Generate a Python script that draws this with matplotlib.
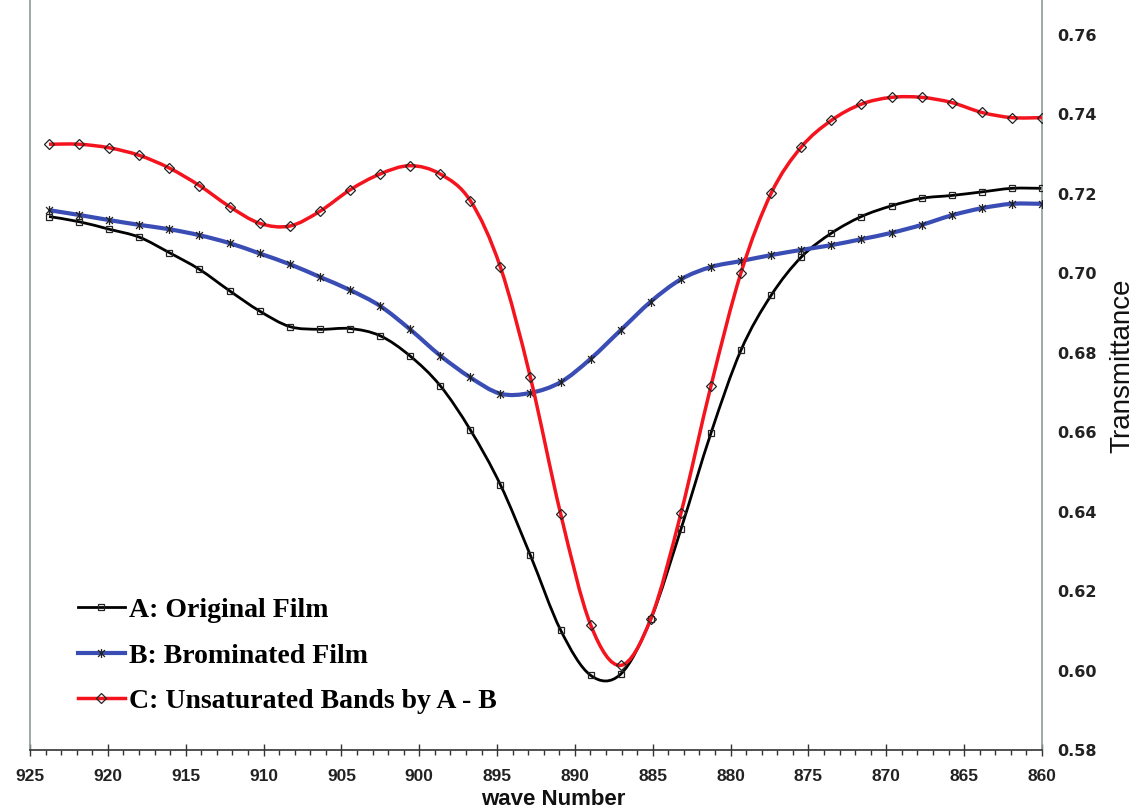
import numpy as np
import matplotlib
matplotlib.use('Agg')
import matplotlib.pyplot as plt
from matplotlib.path import Path
from matplotlib.patches import PathPatch
from matplotlib.lines import Line2D
from matplotlib.ticker import MultipleLocator, FixedLocator

# wave numbers of the sampled points (cm^-1)
wave_number = [923.78, 921.85, 919.91, 917.98, 916.05, 914.12, 912.18, 910.25,
               908.32, 906.39, 904.45, 902.52, 900.59, 898.65, 896.72, 894.79,
               892.86, 890.92, 888.99, 887.06, 885.12, 883.19, 881.26, 879.33,
               877.39, 875.46, 873.53, 871.60, 869.66, 867.73, 865.80, 863.86,
               861.93, 860.00]

original_film = [0.7143, 0.7130, 0.7111, 0.7091, 0.7052, 0.7010, 0.6956, 0.6905,
                 0.6866, 0.6859, 0.6861, 0.6843, 0.6792, 0.6717, 0.6606, 0.6468,
                 0.6290, 0.6102, 0.5988, 0.5991, 0.6130, 0.6356, 0.6598, 0.6807,
                 0.6945, 0.7041, 0.7101, 0.7143, 0.7170, 0.7189, 0.7196, 0.7205,
                 0.7214, 0.7214]

brominated_film = [0.7159, 0.7147, 0.7134, 0.7122, 0.7111, 0.7096, 0.7076, 0.7050,
                   0.7023, 0.6991, 0.6958, 0.6918, 0.6859, 0.6793, 0.6738, 0.6697,
                   0.6699, 0.6726, 0.6785, 0.6857, 0.6929, 0.6985, 0.7016, 0.7031,
                   0.7046, 0.7059, 0.7071, 0.7086, 0.7102, 0.7122, 0.7146, 0.7164,
                   0.7175, 0.7175]

unsaturated_bands = [0.7325, 0.7325, 0.7316, 0.7297, 0.7265, 0.7221, 0.7168, 0.7126,
                     0.7119, 0.7156, 0.7210, 0.7250, 0.7271, 0.7250, 0.7183, 0.7016,
                     0.6738, 0.6395, 0.6115, 0.6013, 0.6131, 0.6396, 0.6717, 0.7002,
                     0.7202, 0.7318, 0.7385, 0.7426, 0.7443, 0.7443, 0.7430, 0.7405,
                     0.7392, 0.7392]

series_labels = ['A: Original Film', 'B: Brominated Film', 'C: Unsaturated Bands by A - B']
y_ticks = [0.58, 0.60, 0.62, 0.64, 0.66, 0.68, 0.70, 0.72, 0.74, 0.76]
x_ticks = [925, 920, 915, 910, 905, 900, 895, 890, 885, 880, 875, 870, 865, 860]

# asterisk marker: an X with a vertical bar
star = Path([(-1, -1), (1, 1), (-1, 1), (1, -1), (0, -1.3), (0, 1.3)],
            [Path.MOVETO, Path.LINETO, Path.MOVETO, Path.LINETO, Path.MOVETO, Path.LINETO])


def smooth_path(x, y):
    # Catmull-Rom through the points, written as cubic bezier segments
    pts = np.column_stack([x, y])
    pts = np.vstack([pts[0], pts, pts[-1]])
    verts = [tuple(pts[1])]
    codes = [Path.MOVETO]
    for i in range(1, len(pts) - 2):
        p0, p1, p2, p3 = pts[i - 1], pts[i], pts[i + 1], pts[i + 2]
        c1 = p1 + (p2 - p0) / 6.0
        c2 = p2 - (p3 - p1) / 6.0
        verts += [tuple(c1), tuple(c2), tuple(p2)]
        codes += [Path.CURVE4] * 3
    return Path(verts, codes)


fig = plt.figure(figsize=(11.34, 8.10), dpi=100)
ax = fig.add_axes([30 / 1134, 60 / 810, (1042 - 30) / 1134, 750 / 810])

styles = [
    (original_film, 'black', 2.0, 's', 5.0),
    (brominated_film, '#3a4db5', 3.0, star, 6.5),
    (unsaturated_bands, '#f5141e', 2.5, 'D', 5.0),
]

handles = []
for z, (values, color, lw, marker, ms) in enumerate(styles):
    patch = PathPatch(smooth_path(wave_number, values), facecolor='none',
                      edgecolor=color, lw=lw, zorder=2 + z * 2)
    ax.add_patch(patch)
    ax.plot(wave_number, values, linestyle='none', marker=marker, markersize=ms,
            markerfacecolor='none', markeredgecolor='#222222', markeredgewidth=0.9,
            zorder=3 + z * 2)
    handles.append(Line2D([], [], color=color, lw=lw, marker=marker, markersize=ms,
                          markerfacecolor='none', markeredgecolor='#222222',
                          markeredgewidth=0.9))

ax.set_xlim(925, 860)
ax.set_ylim(0.58, 0.58 + 0.18 * 750 / 715)

ax.xaxis.set_major_locator(FixedLocator(x_ticks))
ax.xaxis.set_minor_locator(MultipleLocator(1))
ax.set_xticklabels([str(t) for t in x_ticks], fontfamily='Liberation Sans',
                   fontweight='bold', fontsize=12.5, color='#222222')
ax.tick_params(axis='x', which='major', direction='inout', length=8, width=1.0,
               color='#333333', pad=10)
ax.tick_params(axis='x', which='minor', direction='out', length=3.5, width=1.0,
               color='#333333')

ax.yaxis.tick_right()
ax.set_yticks(y_ticks)
ax.set_yticklabels([f'{t:.2f}' for t in y_ticks], fontfamily='DejaVu Sans',
                   fontweight='bold', fontsize=11.5, color='#222222')
ax.tick_params(axis='y', which='both', length=0, pad=11)

ax.spines['top'].set_visible(False)
ax.spines['left'].set_color('#8c9a9a')
ax.spines['right'].set_color('#8c9a9a')
ax.spines['left'].set_linewidth(1.2)
ax.spines['right'].set_linewidth(1.2)
ax.spines['bottom'].set_color('#333333')
ax.spines['bottom'].set_linewidth(1.2)

fig.text(553 / 1134, 1 - 789 / 810, 'wave Number', ha='center', va='top',
         fontfamily='Liberation Sans', fontweight='bold', fontsize=16, color='#111111')
fig.text(1122 / 1134, 1 - 366 / 810, 'Transmittance', ha='center', va='center',
         rotation=90, fontfamily='Liberation Sans', fontsize=20, color='#111111')

ax.legend(handles, series_labels, loc='upper left', bbox_to_anchor=(0.047, 0.203),
          frameon=False, borderpad=0, borderaxespad=0, handlelength=1.7,
          handletextpad=0.15, labelspacing=0.72,
          prop={'family': 'Liberation Serif', 'weight': 'bold', 'size': 20})

fig.savefig('out.png', dpi=100, facecolor='white')
